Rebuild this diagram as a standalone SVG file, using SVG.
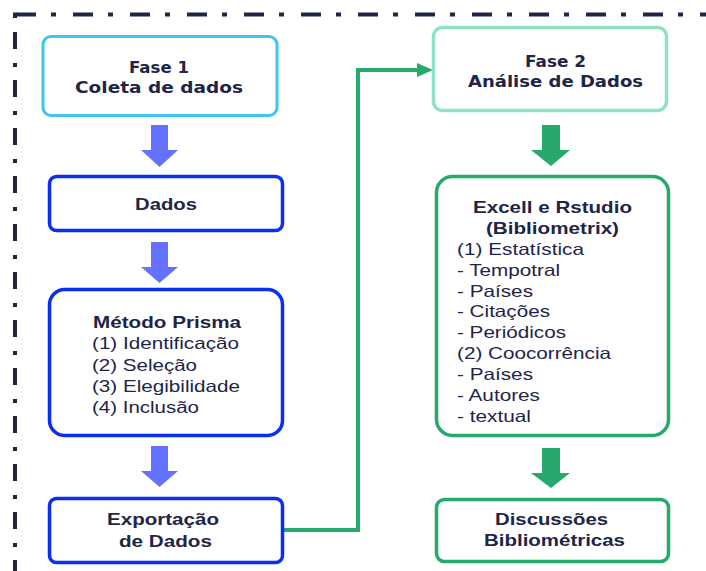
<svg xmlns="http://www.w3.org/2000/svg" width="706" height="571" viewBox="0 0 706 571">
<style>
.t{font-family:"Liberation Sans",Arial,sans-serif;font-size:16.5px;fill:#1e2547}
.b{font-weight:bold}
.g{font-family:"DejaVu Sans","Liberation Sans",sans-serif;font-size:16.5px;font-weight:bold;fill:#1e2547}
.bx{fill:#fff;stroke:#0a2ef2;stroke-width:3.5}
.gx{fill:#fff;stroke:#27a96c;stroke-width:3.5}
.ba{fill:#6571ff}
.ga{fill:#27a96c}
</style>
<rect width="706" height="571" fill="#fff"/>
<g id="border" stroke="#1e2547" stroke-width="4" fill="none">
<line x1="16" y1="14.5" x2="706" y2="14.5" stroke-dasharray="20 15 5 17"/>
<line x1="15" y1="32" x2="15" y2="571" stroke-dasharray="17 14 4 13"/>
<path d="M15,18 V14.5 H17" stroke-width="4"/>
</g>
<g id="connectors">
<polygon class="ba" points="151,125 168,125 168,150 178,150 159.5,167 141,150 151,150"/>
<polygon class="ba" points="151,242 168,242 168,267 178,267 159.5,283 141,267 151,267"/>
<polygon class="ba" points="151,446 168,446 168,471 178,471 159.5,487 141,471 151,471"/>
<polygon class="ga" points="542,125 560,125 560,150 570,150 551,166 531,150 542,150"/>
<polygon class="ga" points="542,448 560,448 560,473 570,473 551,488 531,473 542,473"/>
<path d="M284,530 H358 V70 H419" fill="none" stroke="#27a96c" stroke-width="4"/>
<polygon class="ga" points="417,63 433,70 417,77"/>
</g>
<g id="fase1">
<rect x="43" y="36.5" width="234" height="79" rx="8" fill="#fff" stroke="#3ec6ef" stroke-width="3"/>
<text class="g" x="129" y="73" textLength="60" lengthAdjust="spacingAndGlyphs">Fase 1</text>
<text class="g" x="75" y="93" textLength="168" lengthAdjust="spacingAndGlyphs">Coleta de dados</text>
</g>
<g id="dados">
<rect class="bx" x="49.5" y="176.5" width="233" height="54" rx="7"/>
<text class="t b" x="135" y="210" textLength="62" lengthAdjust="spacingAndGlyphs">Dados</text>
</g>
<g id="prisma">
<rect class="bx" x="49.5" y="289.5" width="233" height="146" rx="15"/>
<text class="t b" x="93" y="328" textLength="148" lengthAdjust="spacingAndGlyphs">Método Prisma</text>
<text class="t" x="92" y="349" textLength="147" lengthAdjust="spacingAndGlyphs">(1) Identificação</text>
<text class="t" x="92" y="371" textLength="105" lengthAdjust="spacingAndGlyphs">(2) Seleção</text>
<text class="t" x="92" y="392" textLength="148" lengthAdjust="spacingAndGlyphs">(3) Elegibilidade</text>
<text class="t" x="92" y="413" textLength="107" lengthAdjust="spacingAndGlyphs">(4) Inclusão</text>
</g>
<g id="exportacao">
<rect class="bx" x="49.5" y="498.5" width="233" height="64" rx="7"/>
<text class="t b" x="107" y="525" textLength="112" lengthAdjust="spacingAndGlyphs">Exportação</text>
<text class="t b" x="119" y="547" textLength="93" lengthAdjust="spacingAndGlyphs">de Dados</text>
</g>
<g id="fase2">
<rect x="433.5" y="27.5" width="233" height="83" rx="9" fill="#fff" stroke="#8fe3c0" stroke-width="3.5"/>
<text class="g" x="525" y="67" textLength="61" lengthAdjust="spacingAndGlyphs">Fase 2</text>
<text class="g" x="468" y="87" textLength="175" lengthAdjust="spacingAndGlyphs">Análise de Dados</text>
</g>
<g id="excell">
<rect class="gx" x="436.5" y="176.5" width="232" height="259" rx="16"/>
<text class="t b" x="473" y="213" textLength="159" lengthAdjust="spacingAndGlyphs">Excell e Rstudio</text>
<text class="t b" x="486" y="234" textLength="133" lengthAdjust="spacingAndGlyphs">(Bibliometrix)</text>
<text class="t" x="457" y="255" textLength="127" lengthAdjust="spacingAndGlyphs">(1) Estatística</text>
<text class="t" x="457" y="276" textLength="103" lengthAdjust="spacingAndGlyphs">- Tempotral</text>
<text class="t" x="457" y="297" textLength="76" lengthAdjust="spacingAndGlyphs">- Países</text>
<text class="t" x="457" y="317" textLength="93" lengthAdjust="spacingAndGlyphs">- Citações</text>
<text class="t" x="457" y="338" textLength="109" lengthAdjust="spacingAndGlyphs">- Periódicos</text>
<text class="t" x="457" y="359" textLength="154" lengthAdjust="spacingAndGlyphs">(2) Coocorrência</text>
<text class="t" x="457" y="380" textLength="76" lengthAdjust="spacingAndGlyphs">- Países</text>
<text class="t" x="457" y="401" textLength="83" lengthAdjust="spacingAndGlyphs">- Autores</text>
<text class="t" x="457" y="422" textLength="74" lengthAdjust="spacingAndGlyphs">- textual</text>
</g>
<g id="discussoes">
<rect class="gx" x="436.5" y="499.5" width="232" height="62" rx="8"/>
<text class="t b" x="495" y="525" textLength="113" lengthAdjust="spacingAndGlyphs">Discussões</text>
<text class="t b" x="484" y="546" textLength="141" lengthAdjust="spacingAndGlyphs">Bibliométricas</text>
</g>
</svg>
